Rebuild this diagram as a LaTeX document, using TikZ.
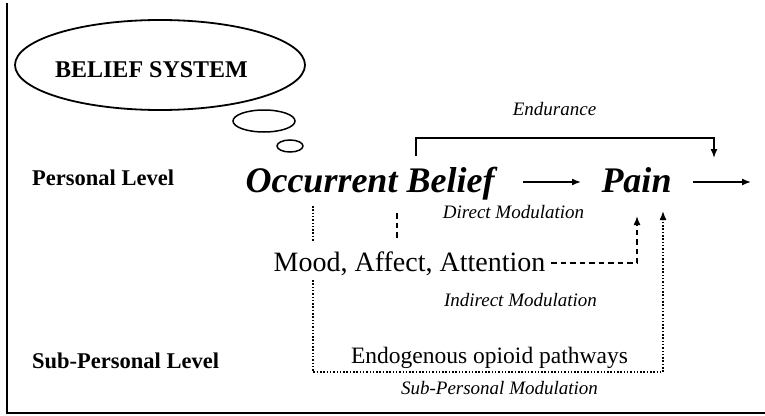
\documentclass[tikz,border=0pt]{standalone}
\usepackage{fontspec}
\setmainfont{Liberation Serif}
\usetikzlibrary{arrows.meta,shapes.geometric}
\tikzset{
  lbl/.style={inner sep=0pt, anchor=base},
  lvl/.style={lbl, anchor=base west, font=\bfseries\fontsize{22.5}{26}\selectfont},
  big/.style={lbl, font=\bfseries\itshape\fontsize{36}{40}\selectfont},
  mid/.style={lbl, font=\fontsize{28}{32}\selectfont},
  endo/.style={lbl, font=\fontsize{23.5}{27}\selectfont},
  ital/.style={lbl, font=\itshape\fontsize{19}{22}\selectfont},
  bubble/.style={ellipse, draw, line width=1.8pt, inner sep=0pt},
  arr/.style={line width=1.5pt, -{Latex[length=9pt,width=7pt]}},
  dashline/.style={line width=1.9pt, dash pattern=on 5.5pt off 4pt},
  dotline/.style={line width=1.9pt, dash pattern=on 1.5pt off 1.8pt},
  frame/.style={line width=2pt}
}
\begin{document}
\begin{tikzpicture}[x=1pt,y=-1pt]
\useasboundingbox (0,0) rectangle (765,415);
% frame
\coordinate (f1) at (7,3);
\coordinate (f2) at (7,413);
\coordinate (f3) at (765,413);
\draw[frame] (f1) -- (f2) -- (f3);
% thought bubbles
\node[bubble, minimum width=290pt, minimum height=90pt] (bs) at (160,65) {};
\node[lbl, font=\bfseries\fontsize{24}{28}\selectfont] (bst) at (151.5,77) {BELIEF SYSTEM};
\node[bubble, line width=1.5pt, minimum width=62pt, minimum height=22pt] (b1) at (264,121) {};
\node[bubble, line width=1.5pt, minimum width=26pt, minimum height=12pt] (b2) at (290,146) {};
% level labels
\node[lvl] (pl) at (32,185) {Personal Level};
\node[lvl] (spl) at (32,368) {Sub-Personal Level};
% main nodes
\node[big] (ob) at (370,192) {Occurrent Belief};
\node[big] (pain) at (636.5,192) {Pain};
\node[mid] (mood) at (409.5,271) {Mood, Affect, Attention};
\node[endo] (endo) at (489.5,363) {Endogenous opioid pathways};
% italic labels
\node[ital] (endu) at (554.5,115) {Endurance};
\node[ital] (dm) at (513.5,218) {Direct Modulation};
\node[ital] (im) at (520.5,306) {Indirect Modulation};
\node[ital] (sm) at (499.5,394) {Sub-Personal Modulation};
% direct arrow and outgoing arrow
\coordinate (a1) at (523,182);
\coordinate (a2) at (581,182);
\coordinate (a3) at (693,182);
\coordinate (a4) at (751,182);
\draw[arr] (a1) -- (a2);
\draw[arr] (a3) -- (a4);
% endurance bracket
\coordinate (e1) at (416,156);
\coordinate (e2) at (416,138);
\coordinate (e3) at (714,138);
\coordinate (e4) at (714,158);
\draw[arr] (e1) -- (e2) -- (e3) -- (e4);
% indirect (dashed)
\coordinate (d1) at (397,213);
\coordinate (d2) at (397,241);
\coordinate (d3) at (551,263);
\coordinate (d4) at (637,263);
\coordinate (d5) at (637,216);
\draw[dashline] (d1) -- (d2);
\draw[dashline] (d3) -- (d4) -- ([yshift=-10pt]d5);
\draw[arr] ([yshift=-10pt]d5) -- (d5);
% sub-personal (dotted)
\coordinate (p1) at (313,206);
\coordinate (p2) at (313,241);
\coordinate (p3) at (313,280);
\coordinate (p4) at (313,372);
\coordinate (p5) at (663,372);
\coordinate (p6) at (663,211);
\draw[dotline] (p1) -- (p2);
\draw[dotline] (p3) -- (p4) -- (p5) -- ([yshift=-9pt]p6);
\draw[arr] ([yshift=-9pt]p6) -- (p6);
\end{tikzpicture}
\end{document}
